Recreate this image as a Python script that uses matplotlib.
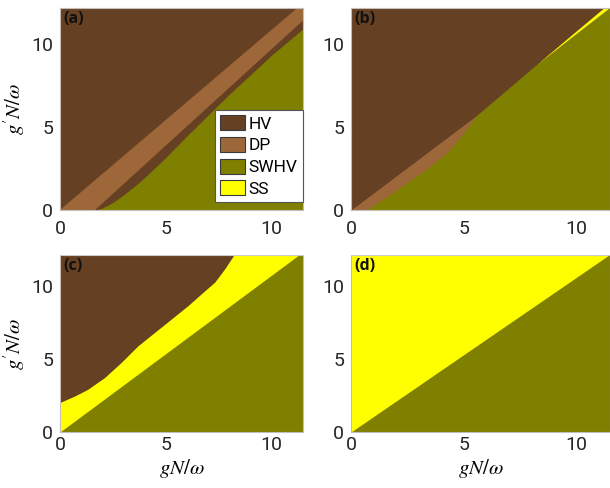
"""
Four-panel phase diagram (HV / DP / SWHV / SS) in the gN/omega - g'N/omega plane
"""

import numpy as np
import matplotlib
matplotlib.use("Agg")
import matplotlib.pyplot as plt
from matplotlib.patches import Patch, Rectangle

plt.rcParams['font.family'] = ['Roboto', 'DejaVu Sans']
plt.rcParams['mathtext.fontset'] = 'stix'

# axis ranges
X_MAX = 11.5
Y_MAX = 12.15
EXT = 0.6  # extra margin so polygons close outside the visible box

phase_names = ['HV', 'DP', 'SWHV', 'SS']
phase_colors = ['#664022', '#9d673a', '#7f7f00', '#ffff00']
HV, DP, SW, SS = phase_colors

tick_values = [0, 5, 10]
panel_tags = ['(a)', '(b)', '(c)', '(d)']

# panel (a): DP band and SWHV region
a_dp_top_x = [0.0, 11.7]
a_dp_top_y = [0.0, 12.66]
a_dp_bot_x = [1.66, 11.7]
a_dp_bot_y = [0.0, 11.63]
a_sw_x = [1.66, 2.0, 2.5, 3.0, 3.5, 4.0, 5.0, 6.0, 7.0, 8.0, 9.0, 10.0, 11.5, 11.7]
a_sw_y = [0.0, 0.12, 0.45, 0.9, 1.4, 1.95, 3.15, 4.45, 5.7, 6.95, 8.12, 9.3, 10.9, 11.15]

# panel (b): HV boundary, SWHV top (DP wedge below 5.5, thin SS strip above 8)
b_hv_x = [0.0, 5.55, 11.2, 11.7]
b_hv_y = [0.0, 5.66, 12.15, 12.7]
b_sw_x = [0.69, 1.6, 2.6, 3.5, 4.3, 4.9, 5.3, 5.55, 8.14, 9.7, 11.7]
b_sw_y = [0.0, 0.8, 1.75, 2.6, 3.5, 4.45, 5.2, 5.66, 8.64, 10.3, 12.4]
B_SS_START = 8  # SWHV points from here on carry the SS strip above them

# panel (c): SS band between the SWHV line and the HV curve
c_sw_x = [0.0, 11.7]
c_sw_y = [0.0, 12.58]
c_hv_x = [0.0, 0.71, 1.34, 2.13, 2.92, 3.71, 4.5, 5.29, 6.08, 6.71, 7.35, 7.82, 8.29, 8.45]
c_hv_y = [1.98, 2.43, 2.9, 3.7, 4.74, 5.88, 6.8, 7.72, 8.64, 9.45, 10.26, 11.17, 12.2, 12.6]

# panel (d): SS above, SWHV below the diagonal
d_sw_x = [0.0, 11.5]
d_sw_y = [0.0, 12.2]


def style_axes(ax, tag, xpad):
    ax.set_xlim(0, X_MAX)
    ax.set_ylim(0, Y_MAX)
    ax.set_xticks(tick_values)
    ax.set_yticks(tick_values)
    ax.tick_params(axis='both', length=0, labelsize=14, colors='#262626')
    ax.tick_params(axis='x', pad=xpad)
    ax.tick_params(axis='y', pad=5)
    for s in ax.spines.values():
        s.set_color('#c4beb8')
        s.set_linewidth(0.8)
    ax.text(0.012, 0.985, tag, transform=ax.transAxes, ha='left', va='top',
            fontsize=11.5, fontweight='bold', color='#111111',
            family=['Open Sans', 'DejaVu Sans'])


def main():
    W, H = 610, 488
    fig = plt.figure(figsize=(W / 100, H / 100), dpi=100)

    def box(l, r, t, b):
        return [l / W, (H - b) / H, (r - l) / W, (b - t) / H]

    ax_a = fig.add_axes(box(60, 303, 8, 210))
    ax_b = fig.add_axes(box(351, 610, 8, 210))
    ax_c = fig.add_axes(box(60, 303, 255, 432))
    ax_d = fig.add_axes(box(351, 610, 255, 432))

    # (a)
    ax_a.set_facecolor(HV)
    ax_a.fill(np.r_[a_dp_top_x, a_dp_bot_x[::-1]],
              np.r_[a_dp_top_y, a_dp_bot_y[::-1]], color=DP, lw=0)
    ax_a.fill_between(a_sw_x, 0, a_sw_y, color=SW, lw=0)

    # (b)
    ax_b.set_facecolor(HV)
    ax_b.fill_between(b_hv_x[:2], 0, b_hv_y[:2], color=DP, lw=0)
    ax_b.fill_between(b_sw_x, 0, b_sw_y, color=SW, lw=0)
    ss_x = np.array(b_sw_x[B_SS_START:])
    ax_b.fill_between(ss_x, b_sw_y[B_SS_START:], np.interp(ss_x, b_hv_x, b_hv_y),
                      color=SS, lw=0)

    # (c)
    ax_c.set_facecolor(HV)
    ax_c.fill(np.r_[c_hv_x, X_MAX + EXT, X_MAX + EXT, 0],
              np.r_[c_hv_y, c_hv_y[-1], 0, 0], color=SS, lw=0)
    ax_c.fill_between(c_sw_x, 0, c_sw_y, color=SW, lw=0)

    # (d)
    ax_d.set_facecolor(SS)
    ax_d.fill_between(d_sw_x, 0, d_sw_y, color=SW, lw=0)

    for ax, tag, xpad in zip([ax_a, ax_b, ax_c, ax_d], panel_tags, [7, 7, 3, 3]):
        style_axes(ax, tag, xpad)

    ylab = r"$g'N/\omega$"
    xlab = r"$gN/\omega$"
    ax_a.set_ylabel(ylab, fontsize=15, labelpad=3)
    ax_c.set_ylabel(ylab, fontsize=15, labelpad=3)
    ax_c.set_xlabel(xlab, fontsize=15, labelpad=2)
    ax_d.set_xlabel(xlab, fontsize=15, labelpad=2)

    handles = [Patch(facecolor=c, edgecolor='#3a3a3a', linewidth=0.8)
               for c in phase_colors]
    leg = ax_a.legend(handles, phase_names, loc='lower right',
                      bbox_to_anchor=(1.0, 8 / 202), borderaxespad=0,
                      fontsize=12.5, fancybox=False, framealpha=1,
                      edgecolor='#555555', handlelength=1.45, handleheight=0.95,
                      handletextpad=0.2, labelspacing=0.3, borderpad=0.3)
    leg.get_frame().set_linewidth(0.8)

    # the lower panels hide the bottom half of the upper x tick labels
    fig.add_artist(Rectangle((0, (H - 254) / H), 1, 19 / H,
                             transform=fig.transFigure, color='white',
                             zorder=10))

    fig.savefig("out.png", dpi=100)


if __name__ == "__main__":
    main()
